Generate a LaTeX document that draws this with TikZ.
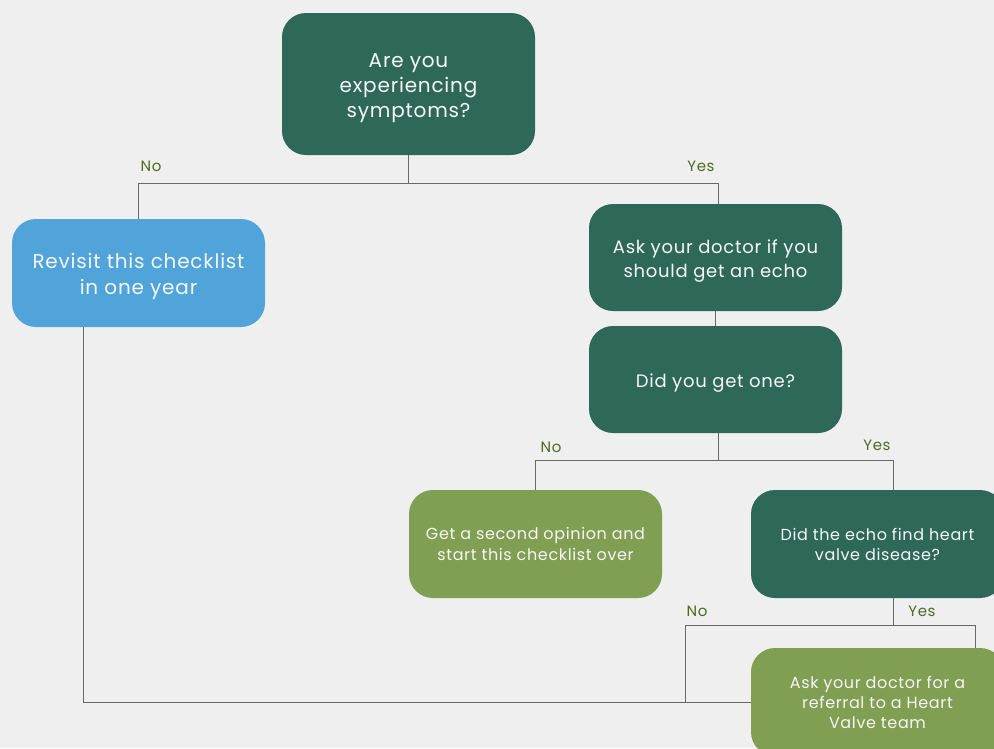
\documentclass[tikz,border=0pt]{standalone}
\usepackage{fontspec}
\setmainfont{Poppins}[LetterSpace=4]
\usetikzlibrary{positioning}
\definecolor{bggray}{RGB}{239,239,239}
\definecolor{deepgreen}{RGB}{46,104,89}
\definecolor{skyblue}{RGB}{80,164,217}
\definecolor{olivegreen}{RGB}{128,159,83}
\definecolor{labelgreen}{RGB}{78,106,34}
\definecolor{linegray}{RGB}{104,104,104}

\begin{document}
\begin{tikzpicture}[x=1pt, y=-1pt,
  box/.style={rounded corners=24pt, minimum width=253pt, minimum height=108pt, align=center, text=white!93!gray, inner sep=0pt},
  darkbox/.style={box, fill=deepgreen},
  bluebox/.style={box, fill=skyblue},
  olivebox/.style={box, fill=olivegreen},
  conn/.style={draw=linegray, line width=1pt},
  answer/.style={text=labelgreen, font=\fontsize{15}{15}\selectfont, inner sep=0pt}]

    % background
    \fill[bggray] (0,0) rectangle (994,748);
    \clip (0,0) rectangle (994,748);

    % questions and steps
    \node[darkbox, minimum height=142pt, font=\fontsize{20}{25}\selectfont] (symptoms) at (408.5,84) {\rule{0pt}{22pt}Are you\\experiencing\\symptoms?};
    \node[bluebox, font=\fontsize{20}{26}\selectfont] (revisit) at (138.5,273) {\rule{0pt}{22pt}Revisit this checklist\\in one year};
    \node[darkbox, minimum height=107pt, font=\fontsize{18}{24}\selectfont] (askecho) at (715.5,257.5) {\rule{0pt}{20pt}Ask your doctor if you\\should get an echo};
    \node[darkbox, minimum height=107pt, font=\fontsize{18}{24}\selectfont] (gotone) at (715.5,379.5) {\rule{0pt}{20pt}Did you get one?};
    \node[olivebox, font=\fontsize{16}{21}\selectfont] (opinion) at (535.5,544) {Get a second opinion and\\start this checklist over};
    \node[darkbox, font=\fontsize{16}{20}\selectfont] (disease) at (877.5,544) {Did the echo find heart\\valve disease?};
    \node[olivebox, font=\fontsize{16}{20}\selectfont] (referral) at (877.5,702) {Ask your doctor for a\\referral to a Heart\\Valve team};

    % first split
    \draw[conn] (symptoms.south) -- ++(0,28) coordinate (split1);
    \draw[conn] (split1) -| (revisit.north);
    \draw[conn] (split1) -| ([xshift=3pt]askecho.north);
    \draw[conn] (askecho.south) -- (gotone.north);

    % second split
    \draw[conn] ([xshift=3pt]gotone.south) -- ++(0,27) coordinate (split2);
    \draw[conn] (split2) -| (opinion.north);
    \draw[conn] (split2) -| ([xshift=16pt]disease.north);

    % third split
    \draw[conn] ([xshift=16pt]disease.south) -- ++(0,27) coordinate (split3);
    \draw[conn] (split3) -| ([xshift=-65pt]referral.west);
    \draw[conn] (split3) -| ([xshift=98pt]referral.north);

    % back round from the left
    \draw[conn] ([xshift=-55pt]revisit.south) |- (referral.west);

    % answers
    \node[answer] (no1) at (151,166) {No};
    \node[answer] (yes1) at (701,166) {Yes};
    \node[answer] (no2) at (551,447) {No};
    \node[answer] (yes2) at (877,445) {Yes};
    \node[answer] (no3) at (697,611) {No};
    \node[answer] (yes3) at (922,611) {Yes};

\end{tikzpicture}
\end{document}
